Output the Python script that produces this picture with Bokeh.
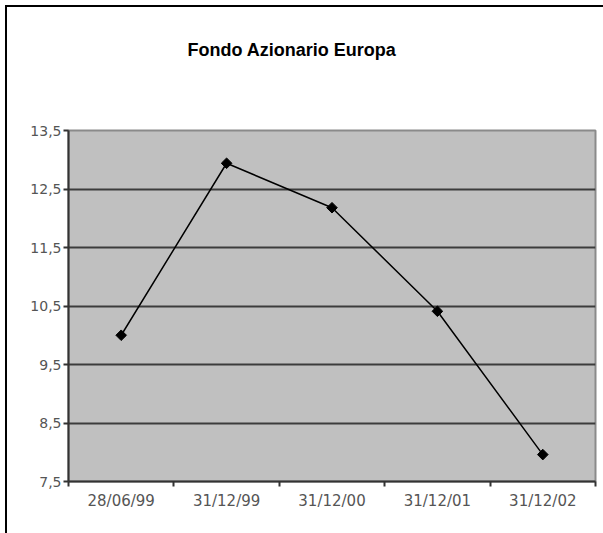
import math
from bokeh.plotting import figure
from bokeh.models import Range1d, FixedTicker, LinearAxis
from bokeh.embed import file_html
from bokeh.resources import INLINE

# ---- data ----
categories = ["28/06/99", "31/12/99", "31/12/00", "31/12/01", "31/12/02"]
values = [10.0, 12.94, 12.18, 10.41, 7.96]
y_ticks = [7.5, 8.5, 9.5, 10.5, 11.5, 12.5, 13.5]
y_tick_labels = ["7,5", "8,5", "9,5", "10,5", "11,5", "12,5", "13,5"]
title_text = "Fondo Azionario Europa"

# category centres on a numeric scale (category i occupies [i, i+1])
xs = [i + 0.5 for i in range(len(categories))]
boundaries = list(range(len(categories) + 1))

p = figure(
    width=603, height=533,
    x_range=Range1d(0, len(categories)),
    y_range=Range1d(y_ticks[0], y_ticks[-1]),
    output_backend="svg", toolbar_location=None,
    min_border_left=68, min_border_right=8,
    min_border_top=130, min_border_bottom=52,
    background_fill_color="#c0c0c0",
    border_fill_alpha=0,
    outline_line_color="#8a8a8a", outline_line_width=2,
)
# outer chart frame (left and top edges) painted behind the transparent canvas
p.styles = {
    "background-color": "#ffffff",
    "background-image": "linear-gradient(#000,#000), linear-gradient(#000,#000)",
    "background-size": "2px 100%, 100% 2px",
    "background-position": "5px 5px, 5px 5px",
    "background-repeat": "no-repeat",
}

# invisible spacer between the plot area and the title
spacer = LinearAxis(
    ticker=FixedTicker(ticks=[xs[0]]),
    major_label_overrides={xs[0]: " "},
    axis_line_color=None, major_tick_line_color=None, minor_tick_line_color=None,
    major_tick_out=66, major_tick_in=0, minor_tick_out=0, minor_tick_in=0,
    major_label_standoff=0, major_label_text_font_size="1px",
    major_label_text_alpha=0,
)
p.add_layout(spacer, "above")

# title
p.title.text = title_text
p.title.align = "left"
p.title.offset = 119
p.title.standoff = 10
p.title.text_font = "Liberation Sans"
p.title.text_font_style = "bold"
p.title.text_font_size = "18px"
p.title.text_color = "#000000"

# y axis
p.yaxis.ticker = FixedTicker(ticks=y_ticks)
p.yaxis.major_label_overrides = dict(zip(y_ticks, y_tick_labels))
p.yaxis.axis_line_color = "#333333"
p.yaxis.axis_line_width = 2
p.yaxis.major_tick_line_color = "#333333"
p.yaxis.major_tick_line_width = 2
p.yaxis.major_tick_out = 5
p.yaxis.major_tick_in = 0
p.yaxis.minor_tick_line_color = None
p.yaxis.major_label_standoff = 2
p.yaxis.major_label_text_font = "DejaVu Sans"
p.yaxis.major_label_text_font_size = "14px"
p.yaxis.major_label_text_color = "#555555"

# x axis: labels at centres, ticks at category boundaries
xaxis = p.below[0]
xaxis.ticker = FixedTicker(ticks=xs, minor_ticks=boundaries)
xaxis.major_label_overrides = dict(zip(xs, categories))
xaxis.axis_line_color = "#333333"
xaxis.axis_line_width = 2
xaxis.major_tick_line_color = None
xaxis.major_tick_out = 5
xaxis.major_tick_in = 0
xaxis.minor_tick_line_color = "#333333"
xaxis.minor_tick_line_width = 2
xaxis.minor_tick_out = 5
xaxis.minor_tick_in = 0
xaxis.major_label_standoff = 5
xaxis.major_label_text_font = "DejaVu Sans"
xaxis.major_label_text_font_size = "15px"
xaxis.major_label_text_color = "#555555"

# grid
p.xgrid.visible = False
p.ygrid.ticker = FixedTicker(ticks=y_ticks[1:-1])
p.ygrid.grid_line_color = "#3c3c3c"
p.ygrid.grid_line_width = 2

# series
p.line(xs, values, line_color="black", line_width=1.5)
p.scatter(xs, values, marker="square", size=7.5, angle=math.pi / 4,
          fill_color="black", line_color="black")

open("out.html", "w").write(file_html(p, INLINE))
